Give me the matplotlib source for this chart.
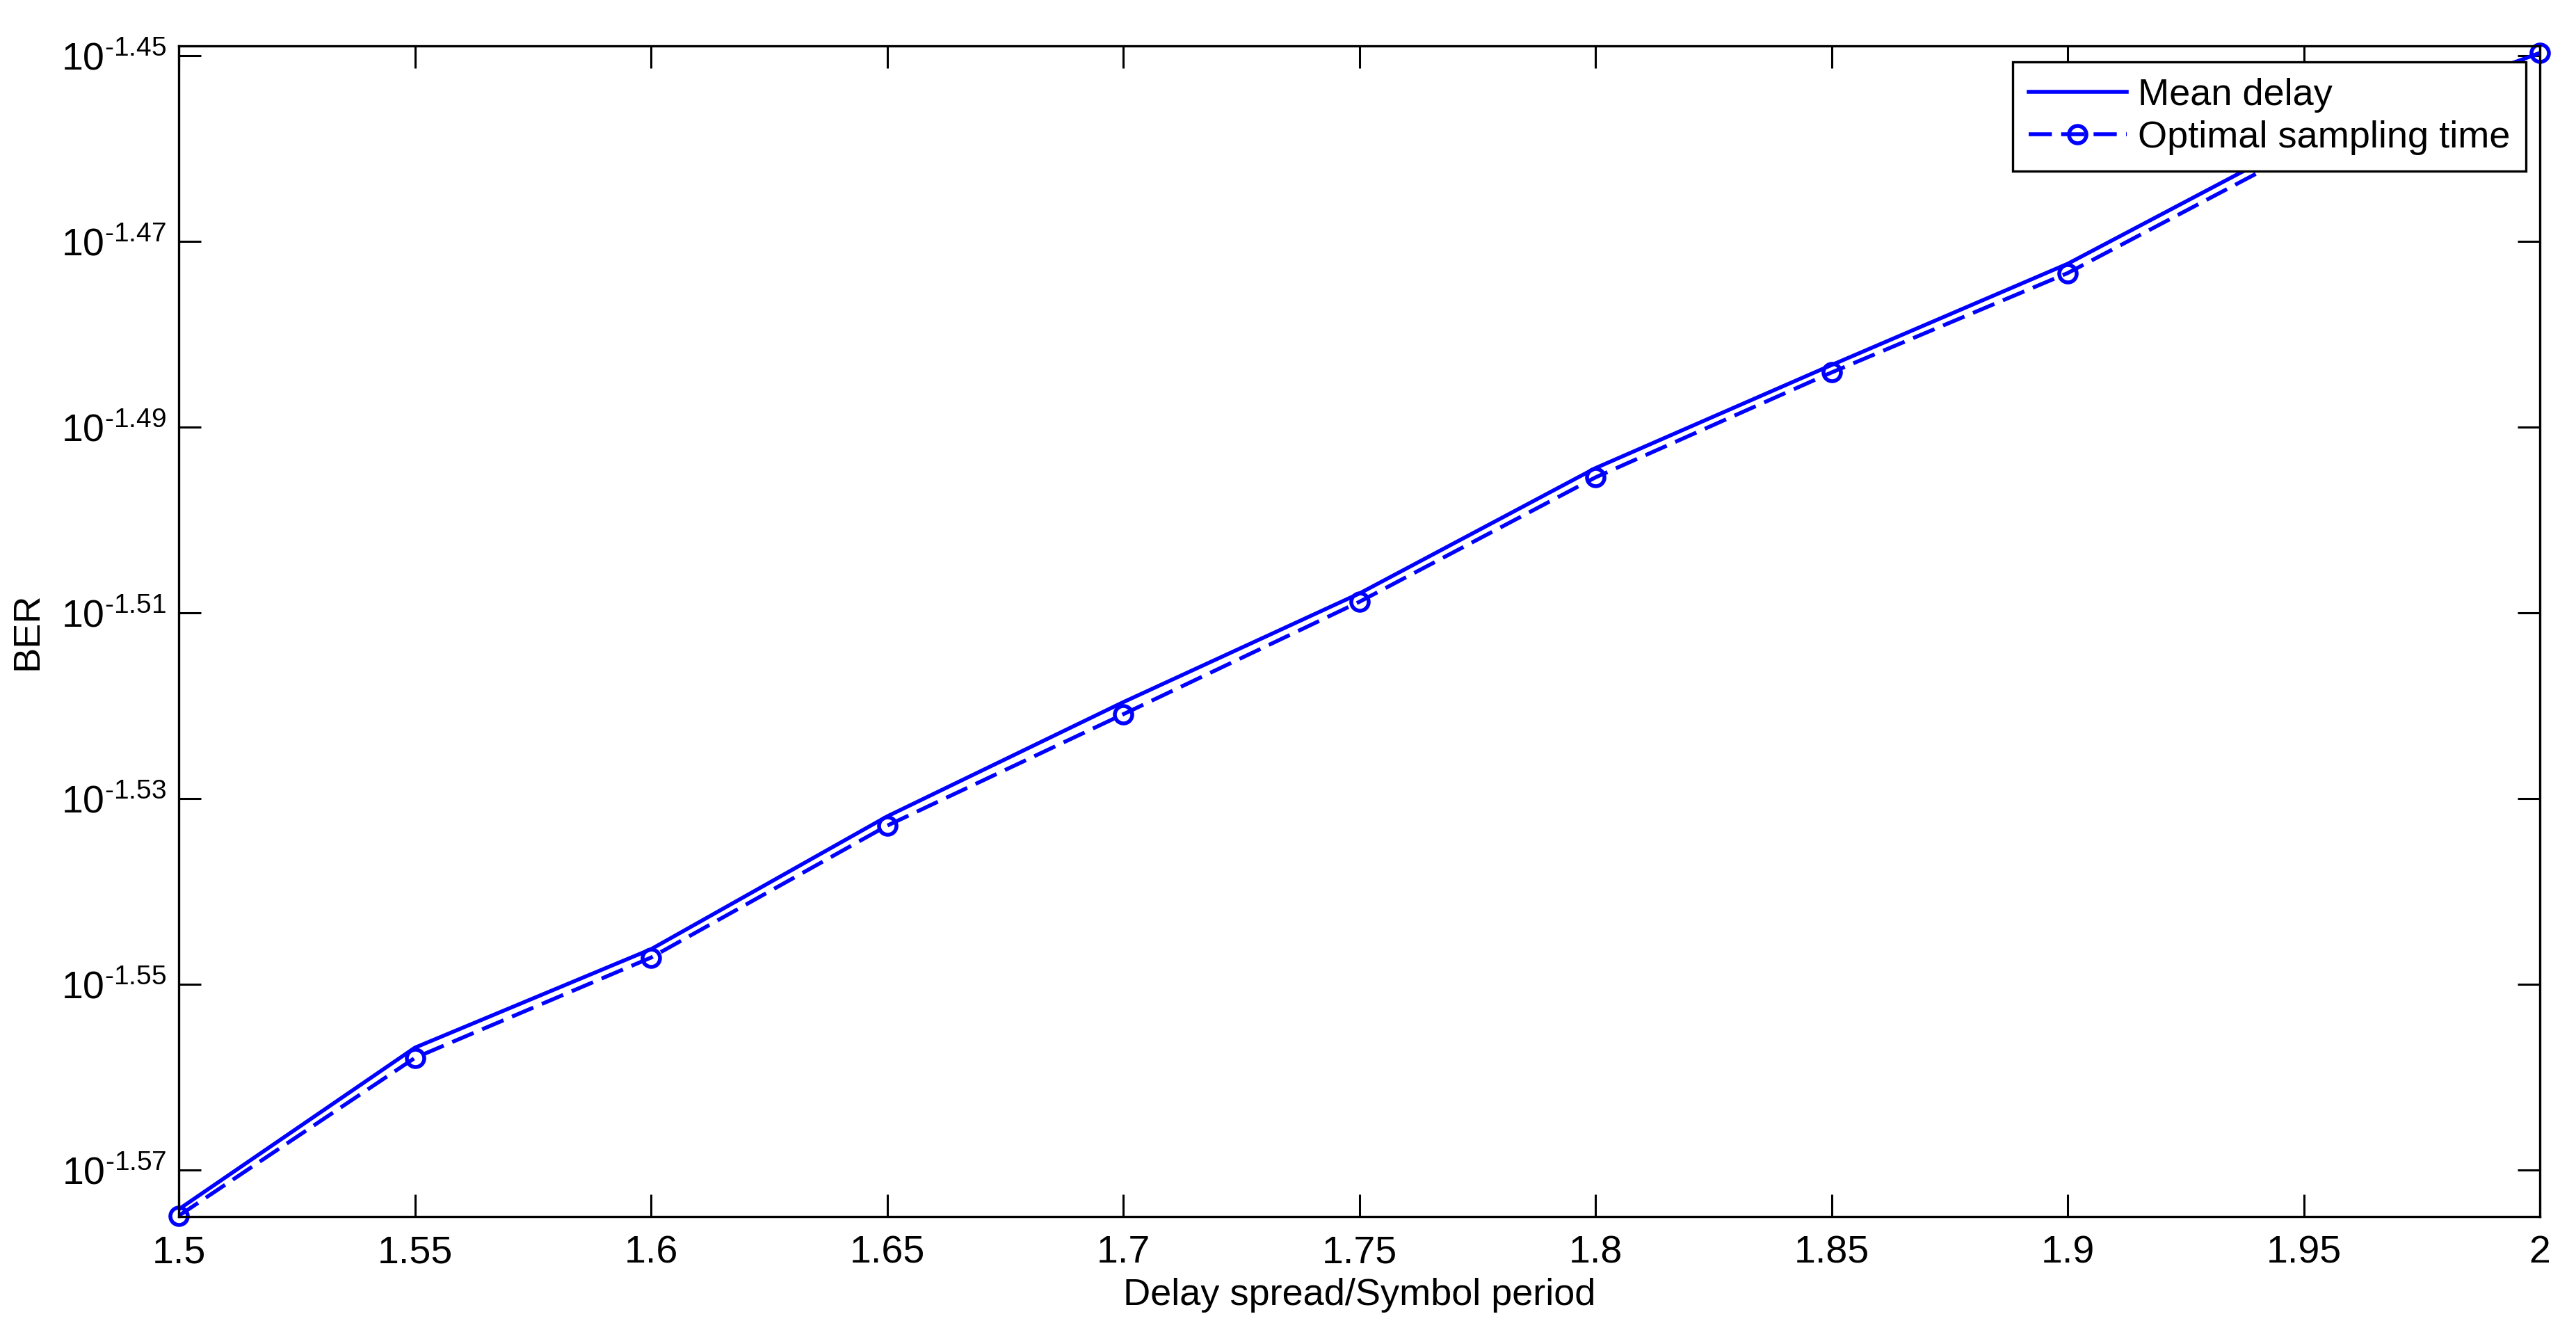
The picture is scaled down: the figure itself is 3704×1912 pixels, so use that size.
import matplotlib
matplotlib.use('Agg')
import matplotlib.pyplot as plt
import matplotlib.ticker as ticker
import matplotlib.transforms as mtransforms
import numpy as np

# values (log10 of BER)
delay_ratio = [1.5, 1.55, 1.6, 1.65, 1.7, 1.75, 1.8, 1.85, 1.9, 1.95, 2.0]
mean_delay_log = [-1.5742, -1.5568, -1.5462, -1.5319, -1.5196, -1.5079,
                  -1.4944, -1.4833, -1.4724, -1.4590, -1.4497]
optimal_log = [-1.5749, -1.5579, -1.5471, -1.5329, -1.5209, -1.5088,
               -1.4954, -1.4841, -1.4734, -1.4600, -1.4497]
ytick_exp = [-1.57, -1.55, -1.53, -1.51, -1.49, -1.47, -1.45]
xticks = [1.5, 1.55, 1.6, 1.65, 1.7, 1.75, 1.8, 1.85, 1.9, 1.95, 2.0]
xtick_labels = ['1.5', '1.55', '1.6', '1.65', '1.7', '1.75', '1.8', '1.85', '1.9', '1.95', '2']


def main():
    plt.rcParams['font.family'] = ['Liberation Sans', 'DejaVu Sans']
    plt.rcParams['mathtext.fontset'] = 'custom'
    plt.rcParams['mathtext.rm'] = 'Liberation Sans'
    plt.rcParams['mathtext.it'] = 'Liberation Sans'

    fig = plt.figure(figsize=(37.05, 19.12), dpi=100)
    ax = fig.add_axes([0.0694, 0.0852, 0.9163, 0.8802])

    mean_delay = 10 ** np.array(mean_delay_log)
    optimal = 10 ** np.array(optimal_log)

    ax.plot(delay_ratio, mean_delay, '-', color='#0000ff', lw=4, label='Mean delay')
    ax.plot(delay_ratio, optimal, '--', color='#0000ff', lw=4, dashes=(6, 2.4),
            marker='o', markersize=18, markerfacecolor='none', markeredgewidth=4,
            clip_on=False, label='Optimal sampling time')

    ax.set_yscale('log')
    ax.set_xlim(1.5, 2.0)
    ax.set_ylim(10 ** -1.5750, 10 ** -1.44895)

    ax.yaxis.set_major_locator(ticker.FixedLocator([10 ** e for e in ytick_exp]))
    ax.yaxis.set_major_formatter(ticker.FixedFormatter(
        [r'$\text{10}^{\text{%.2f}}$' % e for e in ytick_exp]))
    ax.yaxis.set_minor_locator(ticker.NullLocator())
    ax.set_xticks(xticks)
    ax.set_xticklabels(xtick_labels)

    ax.tick_params(direction='in', length=23, width=2.2, labelsize=40,
                   top=True, right=True)
    ax.tick_params(axis='x', pad=19)
    ax.tick_params(axis='y', pad=13)
    for s in ax.spines.values():
        s.set_linewidth(2.4)

    # keep the "10" centred on the tick, exponent sticking up
    shift = mtransforms.ScaledTranslation(0, -0.20, fig.dpi_scale_trans)
    for lab in ax.get_yticklabels():
        lab.set_va('baseline')
        lab.set_transform(lab.get_transform() + shift)

    ax.set_xlabel('Delay spread/Symbol period', fontsize=39, va='top')
    ax.xaxis.set_label_coords(0.5, -0.052)
    ax.set_ylabel('BER', fontsize=39)
    ax.yaxis.set_label_coords(-0.0566, 0.5)

    leg = ax.legend(loc='upper right', bbox_to_anchor=(0.9941, 0.9863), fontsize=39,
                    fancybox=False, framealpha=1, edgecolor='black', borderaxespad=0,
                    handlelength=2.6, borderpad=0.42, labelspacing=0.2,
                    handletextpad=0.3)
    leg.get_frame().set_linewidth(2.4)

    fig.savefig('out.png', dpi=100)


if __name__ == '__main__':
    main()
